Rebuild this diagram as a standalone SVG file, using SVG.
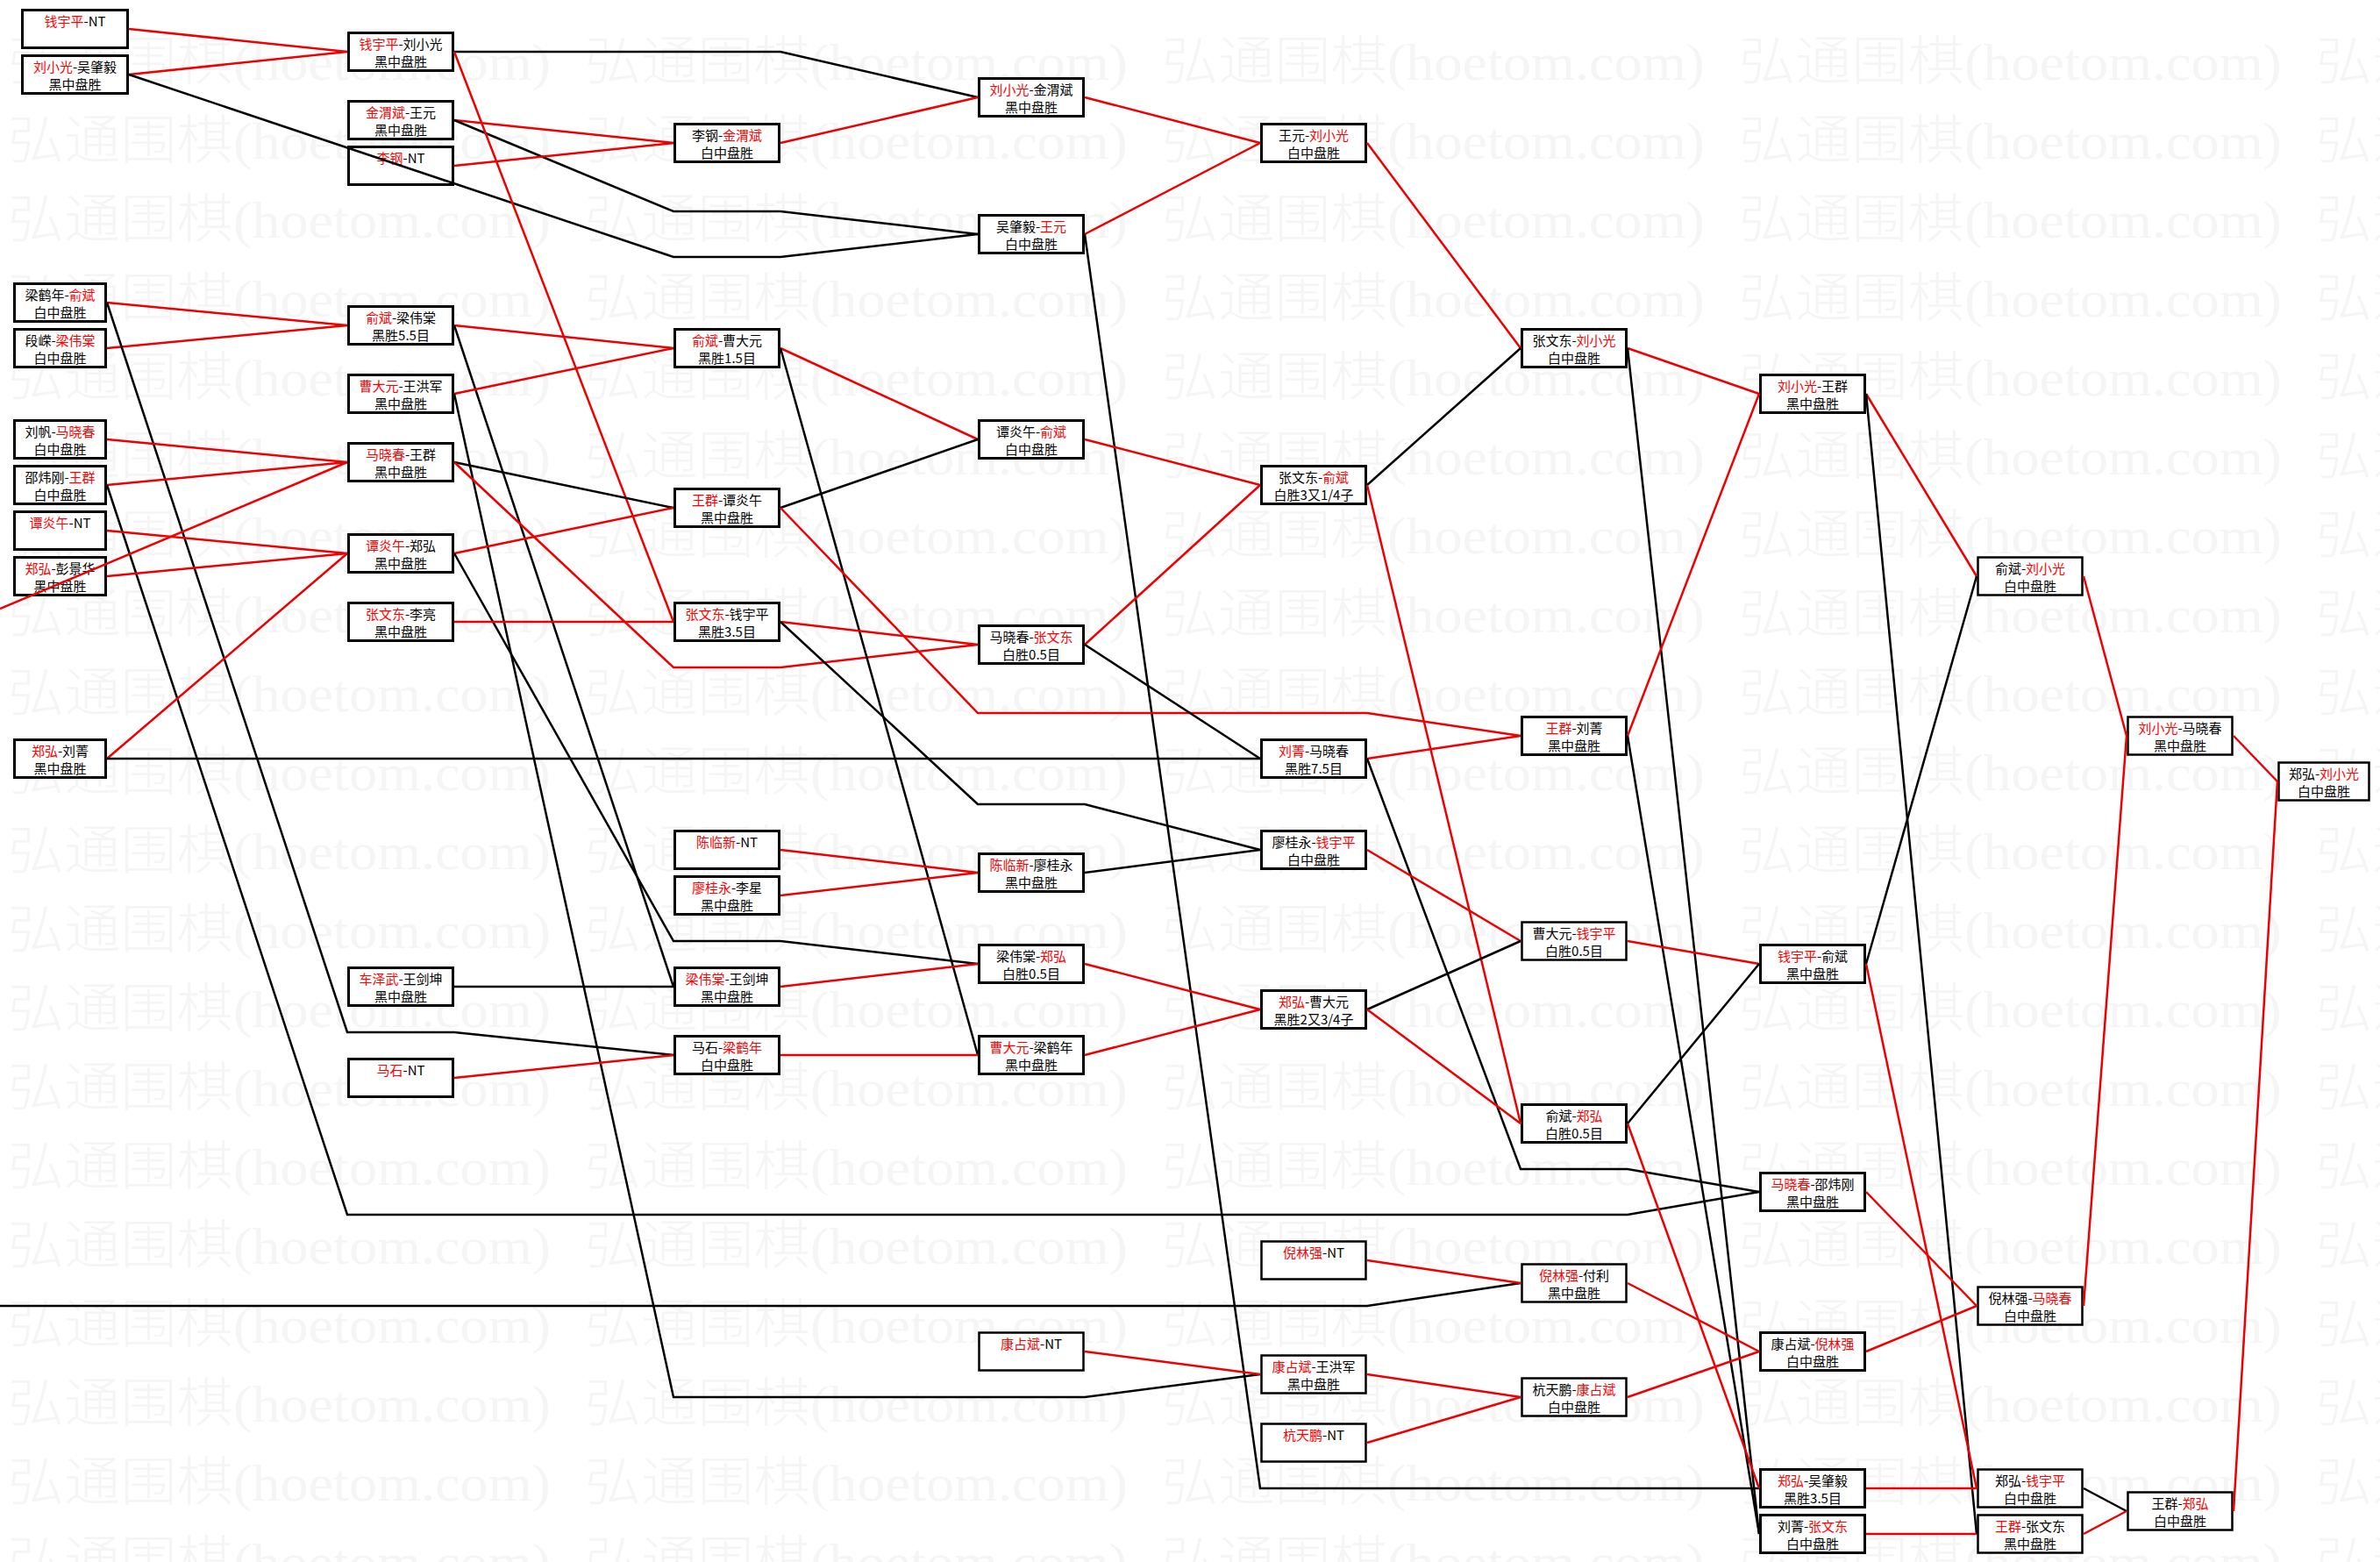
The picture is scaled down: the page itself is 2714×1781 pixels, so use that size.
<svg xmlns="http://www.w3.org/2000/svg" width="2714" height="1781" viewBox="0 0 2714 1781">
<defs>
<style>
.bx{fill:#fff;stroke:#000;stroke-width:3}
.bx2{fill:#fff;stroke:#000;stroke-width:2.5}
.t{font-family:"Noto Sans CJK SC","Liberation Sans",sans-serif;font-size:15px;text-anchor:middle;fill:#000}
.w{fill:#f00}
.cr{fill:none;stroke:#ee0000;stroke-width:2.5}
.ck{fill:none;stroke:#000;stroke-width:2.5}
.wm{font-family:"Liberation Serif","Noto Sans CJK SC",serif;font-size:60px;font-weight:300;fill:#f5f5f5}
</style>
<pattern id="wmp" patternUnits="userSpaceOnUse" x="9" y="21" width="658" height="90">
<text class="wm" x="0" y="70" textLength="619" lengthAdjust="spacingAndGlyphs">弘通围棋(hoetom.com)</text>
</pattern>
</defs>
<rect width="2714" height="1781" fill="#fff"/>
<rect id="watermark" x="0" y="20" width="2714" height="1761" fill="url(#wmp)"/>

<g id="nodes">
<!-- column 1 -->
<g id="c1r0"><rect class="bx" x="25.5" y="11.5" width="120" height="43"/><text class="t" x="85.5" y="30"><tspan class="w">钱宇平</tspan>-NT</text></g>
<g id="c1r2"><rect class="bx" x="25.5" y="63.5" width="120" height="43"/><text class="t" x="85.5" y="82"><tspan class="w">刘小光</tspan>-吴肇毅</text><text class="t" x="85.5" y="102">黑中盘胜</text></g>
<g id="c1r12"><rect class="bx" x="16.5" y="323.5" width="104" height="43"/><text class="t" x="68.5" y="342">梁鹤年-<tspan class="w">俞斌</tspan></text><text class="t" x="68.5" y="362">白中盘胜</text></g>
<g id="c1r14"><rect class="bx" x="16.5" y="375.5" width="104" height="43"/><text class="t" x="68.5" y="394">段嵘-<tspan class="w">梁伟棠</tspan></text><text class="t" x="68.5" y="414">白中盘胜</text></g>
<g id="c1r18"><rect class="bx" x="16.5" y="479.5" width="104" height="43"/><text class="t" x="68.5" y="498">刘帆-<tspan class="w">马晓春</tspan></text><text class="t" x="68.5" y="518">白中盘胜</text></g>
<g id="c1r20"><rect class="bx" x="16.5" y="531.5" width="104" height="43"/><text class="t" x="68.5" y="550">邵炜刚-<tspan class="w">王群</tspan></text><text class="t" x="68.5" y="570">白中盘胜</text></g>
<g id="c1r22"><rect class="bx" x="16.5" y="583.5" width="104" height="43"/><text class="t" x="68.5" y="602"><tspan class="w">谭炎午</tspan>-NT</text></g>
<g id="c1r24"><rect class="bx" x="16.5" y="635.5" width="104" height="43"/><text class="t" x="68.5" y="654"><tspan class="w">郑弘</tspan>-彭景华</text><text class="t" x="68.5" y="674">黑中盘胜</text></g>
<g id="c1r32"><rect class="bx" x="16.5" y="843.5" width="104" height="43"/><text class="t" x="68.5" y="862"><tspan class="w">郑弘</tspan>-刘菁</text><text class="t" x="68.5" y="882">黑中盘胜</text></g>
<!-- column 2 -->
<g id="c2r1"><rect class="bx" x="397.5" y="37.5" width="119" height="43"/><text class="t" x="457" y="56"><tspan class="w">钱宇平</tspan>-刘小光</text><text class="t" x="457" y="76">黑中盘胜</text></g>
<g id="c2r4"><rect class="bx" x="397.5" y="115.5" width="119" height="43"/><text class="t" x="457" y="134"><tspan class="w">金渭斌</tspan>-王元</text><text class="t" x="457" y="154">黑中盘胜</text></g>
<g id="c2r6"><rect class="bx" x="397.5" y="167.5" width="119" height="43"/><text class="t" x="457" y="186"><tspan class="w">李钢</tspan>-NT</text></g>
<g id="c2r13"><rect class="bx" x="397.5" y="349.5" width="119" height="43"/><text class="t" x="457" y="368"><tspan class="w">俞斌</tspan>-梁伟棠</text><text class="t" x="457" y="388">黑胜5.5目</text></g>
<g id="c2r16"><rect class="bx" x="397.5" y="427.5" width="119" height="43"/><text class="t" x="457" y="446"><tspan class="w">曹大元</tspan>-王洪军</text><text class="t" x="457" y="466">黑中盘胜</text></g>
<g id="c2r19"><rect class="bx" x="397.5" y="505.5" width="119" height="43"/><text class="t" x="457" y="524"><tspan class="w">马晓春</tspan>-王群</text><text class="t" x="457" y="544">黑中盘胜</text></g>
<g id="c2r23"><rect class="bx" x="397.5" y="609.5" width="119" height="43"/><text class="t" x="457" y="628"><tspan class="w">谭炎午</tspan>-郑弘</text><text class="t" x="457" y="648">黑中盘胜</text></g>
<g id="c2r26"><rect class="bx" x="397.5" y="687.5" width="119" height="43"/><text class="t" x="457" y="706"><tspan class="w">张文东</tspan>-李亮</text><text class="t" x="457" y="726">黑中盘胜</text></g>
<g id="c2r42"><rect class="bx" x="397.5" y="1103.5" width="119" height="43"/><text class="t" x="457" y="1122"><tspan class="w">车泽武</tspan>-王剑坤</text><text class="t" x="457" y="1142">黑中盘胜</text></g>
<g id="c2r46"><rect class="bx" x="397.5" y="1207.5" width="119" height="43"/><text class="t" x="457" y="1226"><tspan class="w">马石</tspan>-NT</text></g>
<!-- column 3 -->
<g id="c3r5"><rect class="bx" x="769.5" y="141.5" width="119" height="43"/><text class="t" x="829" y="160">李钢-<tspan class="w">金渭斌</tspan></text><text class="t" x="829" y="180">白中盘胜</text></g>
<g id="c3r14"><rect class="bx" x="769.5" y="375.5" width="119" height="43"/><text class="t" x="829" y="394"><tspan class="w">俞斌</tspan>-曹大元</text><text class="t" x="829" y="414">黑胜1.5目</text></g>
<g id="c3r21"><rect class="bx" x="769.5" y="557.5" width="119" height="43"/><text class="t" x="829" y="576"><tspan class="w">王群</tspan>-谭炎午</text><text class="t" x="829" y="596">黑中盘胜</text></g>
<g id="c3r26"><rect class="bx" x="769.5" y="687.5" width="119" height="43"/><text class="t" x="829" y="706"><tspan class="w">张文东</tspan>-钱宇平</text><text class="t" x="829" y="726">黑胜3.5目</text></g>
<g id="c3r36"><rect class="bx" x="769.5" y="947.5" width="119" height="43"/><text class="t" x="829" y="966"><tspan class="w">陈临新</tspan>-NT</text></g>
<g id="c3r38"><rect class="bx" x="769.5" y="999.5" width="119" height="43"/><text class="t" x="829" y="1018"><tspan class="w">廖桂永</tspan>-李星</text><text class="t" x="829" y="1038">黑中盘胜</text></g>
<g id="c3r42"><rect class="bx" x="769.5" y="1103.5" width="119" height="43"/><text class="t" x="829" y="1122"><tspan class="w">梁伟棠</tspan>-王剑坤</text><text class="t" x="829" y="1142">黑中盘胜</text></g>
<g id="c3r45"><rect class="bx" x="769.5" y="1181.5" width="119" height="43"/><text class="t" x="829" y="1200">马石-<tspan class="w">梁鹤年</tspan></text><text class="t" x="829" y="1220">白中盘胜</text></g>
<!-- column 4 -->
<g id="c4r3"><rect class="bx" x="1116.5" y="89.5" width="119" height="43"/><text class="t" x="1176" y="108"><tspan class="w">刘小光</tspan>-金渭斌</text><text class="t" x="1176" y="128">黑中盘胜</text></g>
<g id="c4r9"><rect class="bx" x="1116.5" y="245.5" width="119" height="43"/><text class="t" x="1176" y="264">吴肇毅-<tspan class="w">王元</tspan></text><text class="t" x="1176" y="284">白中盘胜</text></g>
<g id="c4r18"><rect class="bx" x="1116.5" y="479.5" width="119" height="43"/><text class="t" x="1176" y="498">谭炎午-<tspan class="w">俞斌</tspan></text><text class="t" x="1176" y="518">白中盘胜</text></g>
<g id="c4r27"><rect class="bx" x="1116.5" y="713.5" width="119" height="43"/><text class="t" x="1176" y="732">马晓春-<tspan class="w">张文东</tspan></text><text class="t" x="1176" y="752">白胜0.5目</text></g>
<g id="c4r37"><rect class="bx" x="1116.5" y="973.5" width="119" height="43"/><text class="t" x="1176" y="992"><tspan class="w">陈临新</tspan>-廖桂永</text><text class="t" x="1176" y="1012">黑中盘胜</text></g>
<g id="c4r41"><rect class="bx" x="1116.5" y="1077.5" width="119" height="43"/><text class="t" x="1176" y="1096">梁伟棠-<tspan class="w">郑弘</tspan></text><text class="t" x="1176" y="1116">白胜0.5目</text></g>
<g id="c4r45"><rect class="bx" x="1116.5" y="1181.5" width="119" height="43"/><text class="t" x="1176" y="1200"><tspan class="w">曹大元</tspan>-梁鹤年</text><text class="t" x="1176" y="1220">黑中盘胜</text></g>
<g id="c4r58"><rect class="bx2" x="1116.5" y="1519.5" width="119" height="43"/><text class="t" x="1176" y="1538"><tspan class="w">康占斌</tspan>-NT</text></g>
<!-- column 5 -->
<g id="c5r5"><rect class="bx" x="1438.5" y="141.5" width="119" height="43"/><text class="t" x="1498" y="160">王元-<tspan class="w">刘小光</tspan></text><text class="t" x="1498" y="180">白中盘胜</text></g>
<g id="c5r20"><rect class="bx" x="1438.5" y="531.5" width="119" height="43"/><text class="t" x="1498" y="550">张文东-<tspan class="w">俞斌</tspan></text><text class="t" x="1498" y="570">白胜3又1/4子</text></g>
<g id="c5r32"><rect class="bx" x="1438.5" y="843.5" width="119" height="43"/><text class="t" x="1498" y="862"><tspan class="w">刘菁</tspan>-马晓春</text><text class="t" x="1498" y="882">黑胜7.5目</text></g>
<g id="c5r36"><rect class="bx" x="1438.5" y="947.5" width="119" height="43"/><text class="t" x="1498" y="966">廖桂永-<tspan class="w">钱宇平</tspan></text><text class="t" x="1498" y="986">白中盘胜</text></g>
<g id="c5r43"><rect class="bx" x="1438.5" y="1129.5" width="119" height="43"/><text class="t" x="1498" y="1148"><tspan class="w">郑弘</tspan>-曹大元</text><text class="t" x="1498" y="1168">黑胜2又3/4子</text></g>
<g id="c5r54"><rect class="bx2" x="1438.5" y="1415.5" width="119" height="43"/><text class="t" x="1498" y="1434"><tspan class="w">倪林强</tspan>-NT</text></g>
<g id="c5r59"><rect class="bx2" x="1438.5" y="1545.5" width="119" height="43"/><text class="t" x="1498" y="1564"><tspan class="w">康占斌</tspan>-王洪军</text><text class="t" x="1498" y="1584">黑中盘胜</text></g>
<g id="c5r62"><rect class="bx2" x="1438.5" y="1623.5" width="119" height="43"/><text class="t" x="1498" y="1642"><tspan class="w">杭天鹏</tspan>-NT</text></g>
<!-- column 6 -->
<g id="c6r14"><rect class="bx" x="1735.5" y="375.5" width="119" height="43"/><text class="t" x="1795" y="394">张文东-<tspan class="w">刘小光</tspan></text><text class="t" x="1795" y="414">白中盘胜</text></g>
<g id="c6r31"><rect class="bx" x="1735.5" y="817.5" width="119" height="43"/><text class="t" x="1795" y="836"><tspan class="w">王群</tspan>-刘菁</text><text class="t" x="1795" y="856">黑中盘胜</text></g>
<g id="c6r40"><rect class="bx2" x="1735.5" y="1051.5" width="119" height="43"/><text class="t" x="1795" y="1070">曹大元-<tspan class="w">钱宇平</tspan></text><text class="t" x="1795" y="1090">白胜0.5目</text></g>
<g id="c6r48"><rect class="bx" x="1735.5" y="1259.5" width="119" height="43"/><text class="t" x="1795" y="1278">俞斌-<tspan class="w">郑弘</tspan></text><text class="t" x="1795" y="1298">白胜0.5目</text></g>
<g id="c6r55"><rect class="bx2" x="1735.5" y="1441.5" width="119" height="43"/><text class="t" x="1795" y="1460"><tspan class="w">倪林强</tspan>-付利</text><text class="t" x="1795" y="1480">黑中盘胜</text></g>
<g id="c6r60"><rect class="bx2" x="1735.5" y="1571.5" width="119" height="43"/><text class="t" x="1795" y="1590">杭天鹏-<tspan class="w">康占斌</tspan></text><text class="t" x="1795" y="1610">白中盘胜</text></g>
<!-- column 7 -->
<g id="c7r16"><rect class="bx" x="2007.5" y="427.5" width="119" height="43"/><text class="t" x="2067" y="446"><tspan class="w">刘小光</tspan>-王群</text><text class="t" x="2067" y="466">黑中盘胜</text></g>
<g id="c7r41"><rect class="bx" x="2007.5" y="1077.5" width="119" height="43"/><text class="t" x="2067" y="1096"><tspan class="w">钱宇平</tspan>-俞斌</text><text class="t" x="2067" y="1116">黑中盘胜</text></g>
<g id="c7r51"><rect class="bx" x="2007.5" y="1337.5" width="119" height="43"/><text class="t" x="2067" y="1356"><tspan class="w">马晓春</tspan>-邵炜刚</text><text class="t" x="2067" y="1376">黑中盘胜</text></g>
<g id="c7r58"><rect class="bx" x="2007.5" y="1519.5" width="119" height="43"/><text class="t" x="2067" y="1538">康占斌-<tspan class="w">倪林强</tspan></text><text class="t" x="2067" y="1558">白中盘胜</text></g>
<g id="c7r64"><rect class="bx" x="2007.5" y="1675.5" width="119" height="43"/><text class="t" x="2067" y="1694"><tspan class="w">郑弘</tspan>-吴肇毅</text><text class="t" x="2067" y="1714">黑胜3.5目</text></g>
<g id="c7r66"><rect class="bx" x="2007.5" y="1727.5" width="119" height="43"/><text class="t" x="2067" y="1746">刘菁-<tspan class="w">张文东</tspan></text><text class="t" x="2067" y="1766">白中盘胜</text></g>
<!-- column 8 -->
<g id="c8r24"><rect class="bx2" x="2255.5" y="635.5" width="119" height="43"/><text class="t" x="2315" y="654">俞斌-<tspan class="w">刘小光</tspan></text><text class="t" x="2315" y="674">白中盘胜</text></g>
<g id="c8r56"><rect class="bx2" x="2255.5" y="1467.5" width="119" height="43"/><text class="t" x="2315" y="1486">倪林强-<tspan class="w">马晓春</tspan></text><text class="t" x="2315" y="1506">白中盘胜</text></g>
<g id="c8r64"><rect class="bx2" x="2255.5" y="1675.5" width="119" height="43"/><text class="t" x="2315" y="1694">郑弘-<tspan class="w">钱宇平</tspan></text><text class="t" x="2315" y="1714">白中盘胜</text></g>
<g id="c8r66"><rect class="bx2" x="2255.5" y="1727.5" width="119" height="43"/><text class="t" x="2315" y="1746"><tspan class="w">王群</tspan>-张文东</text><text class="t" x="2315" y="1766">黑中盘胜</text></g>
<!-- column 9 -->
<g id="c9r31"><rect class="bx2" x="2426.5" y="817.5" width="119" height="43"/><text class="t" x="2486" y="836"><tspan class="w">刘小光</tspan>-马晓春</text><text class="t" x="2486" y="856">黑中盘胜</text></g>
<g id="c9r65"><rect class="bx2" x="2426.5" y="1701.5" width="119" height="43"/><text class="t" x="2486" y="1720">王群-<tspan class="w">郑弘</tspan></text><text class="t" x="2486" y="1740">白中盘胜</text></g>
<!-- column 10 -->
<g id="c10r33"><rect class="bx2" x="2598.5" y="869.5" width="103" height="43"/><text class="t" x="2650" y="888">郑弘-<tspan class="w">刘小光</tspan></text><text class="t" x="2650" y="908">白中盘胜</text></g>
</g>

<g id="connectors">
<path class="cr" d="M147 33L396 59"/>
<path class="cr" d="M147 85L396 59"/>
<path class="ck" d="M147 85L768 293L890 293L1115 267"/>
<path class="cr" d="M518 137L768 163"/>
<path class="ck" d="M518 137L768 241L890 241L1115 267"/>
<path class="cr" d="M518 189L768 163"/>
<path class="ck" d="M518 59L890 59L1115 111"/>
<path class="cr" d="M518 59L768 709"/>
<path class="cr" d="M890 163L1115 111"/>
<path class="cr" d="M1237 111L1437 163"/>
<path class="cr" d="M1237 267L1437 163"/>
<path class="ck" d="M1237 267L1437 1697L2006 1697"/>
<path class="cr" d="M1559 163L1734 397"/>
<path class="cr" d="M122 345L396 371"/>
<path class="cr" d="M122 397L396 371"/>
<path class="ck" d="M122 345L396 1177L518 1177L768 1203"/>
<path class="cr" d="M122 501L396 527"/>
<path class="cr" d="M122 553L396 527"/>
<path class="ck" d="M122 553L396 1385L1856 1385L2006 1359"/>
<path class="cr" d="M0 694L396 527"/>
<path class="cr" d="M122 605L396 631"/>
<path class="cr" d="M122 657L396 631"/>
<path class="cr" d="M122 865L396 631"/>
<path class="ck" d="M122 865L1437 865"/>
<path class="ck" d="M0 1489L1559 1489L1734 1463"/>
<path class="cr" d="M518 371L768 397"/>
<path class="ck" d="M518 371L768 1125"/>
<path class="cr" d="M518 449L768 397"/>
<path class="ck" d="M518 449L768 1593L1237 1593L1437 1567"/>
<path class="ck" d="M518 527L768 579"/>
<path class="cr" d="M518 527L768 761L890 761L1115 735"/>
<path class="cr" d="M518 631L768 579"/>
<path class="ck" d="M518 631L768 1073L890 1073L1115 1099"/>
<path class="cr" d="M518 709L768 709"/>
<path class="ck" d="M518 1125L768 1125"/>
<path class="cr" d="M518 1229L768 1203"/>
<path class="cr" d="M890 397L1115 501"/>
<path class="ck" d="M890 397L1115 1203"/>
<path class="ck" d="M890 579L1115 501"/>
<path class="cr" d="M890 579L1115 813L1559 813L1734 839"/>
<path class="cr" d="M890 709L1115 735"/>
<path class="ck" d="M890 709L1115 917L1237 917L1437 969"/>
<path class="cr" d="M890 969L1115 995"/>
<path class="cr" d="M890 1021L1115 995"/>
<path class="cr" d="M890 1125L1115 1099"/>
<path class="cr" d="M890 1203L1115 1203"/>
<path class="cr" d="M1237 501L1437 553"/>
<path class="cr" d="M1237 735L1437 553"/>
<path class="ck" d="M1237 735L1437 865"/>
<path class="ck" d="M1237 995L1437 969"/>
<path class="cr" d="M1237 1099L1437 1151"/>
<path class="cr" d="M1237 1203L1437 1151"/>
<path class="cr" d="M1237 1541L1437 1567"/>
<path class="ck" d="M1559 553L1734 397"/>
<path class="cr" d="M1559 553L1734 1281"/>
<path class="cr" d="M1559 865L1734 839"/>
<path class="ck" d="M1559 865L1734 1333L1856 1333L2006 1359"/>
<path class="cr" d="M1559 969L1734 1073"/>
<path class="ck" d="M1559 1151L1734 1073"/>
<path class="cr" d="M1559 1151L1734 1281"/>
<path class="cr" d="M1559 1437L1734 1463"/>
<path class="cr" d="M1559 1567L1734 1593"/>
<path class="cr" d="M1559 1645L1734 1593"/>
<path class="cr" d="M1856 397L2006 449"/>
<path class="ck" d="M1856 397L2006 1749"/>
<path class="cr" d="M1856 839L2006 449"/>
<path class="ck" d="M1856 839L2006 1749"/>
<path class="cr" d="M1856 1073L2006 1099"/>
<path class="ck" d="M1856 1281L2006 1099"/>
<path class="cr" d="M1856 1281L2006 1697"/>
<path class="cr" d="M1856 1463L2006 1541"/>
<path class="cr" d="M1856 1593L2006 1541"/>
<path class="cr" d="M2128 449L2254 657"/>
<path class="ck" d="M2128 449L2254 1749"/>
<path class="ck" d="M2128 1099L2254 657"/>
<path class="cr" d="M2128 1099L2254 1697"/>
<path class="cr" d="M2128 1359L2254 1489"/>
<path class="cr" d="M2128 1541L2254 1489"/>
<path class="cr" d="M2128 1697L2254 1697"/>
<path class="cr" d="M2128 1749L2254 1749"/>
<path class="cr" d="M2376 657L2425 839"/>
<path class="cr" d="M2376 1489L2425 839"/>
<path class="ck" d="M2376 1697L2425 1723"/>
<path class="cr" d="M2376 1749L2425 1723"/>
<path class="cr" d="M2547 839L2597 891"/>
<path class="cr" d="M2547 1723L2597 891"/>
</g>
</svg>
